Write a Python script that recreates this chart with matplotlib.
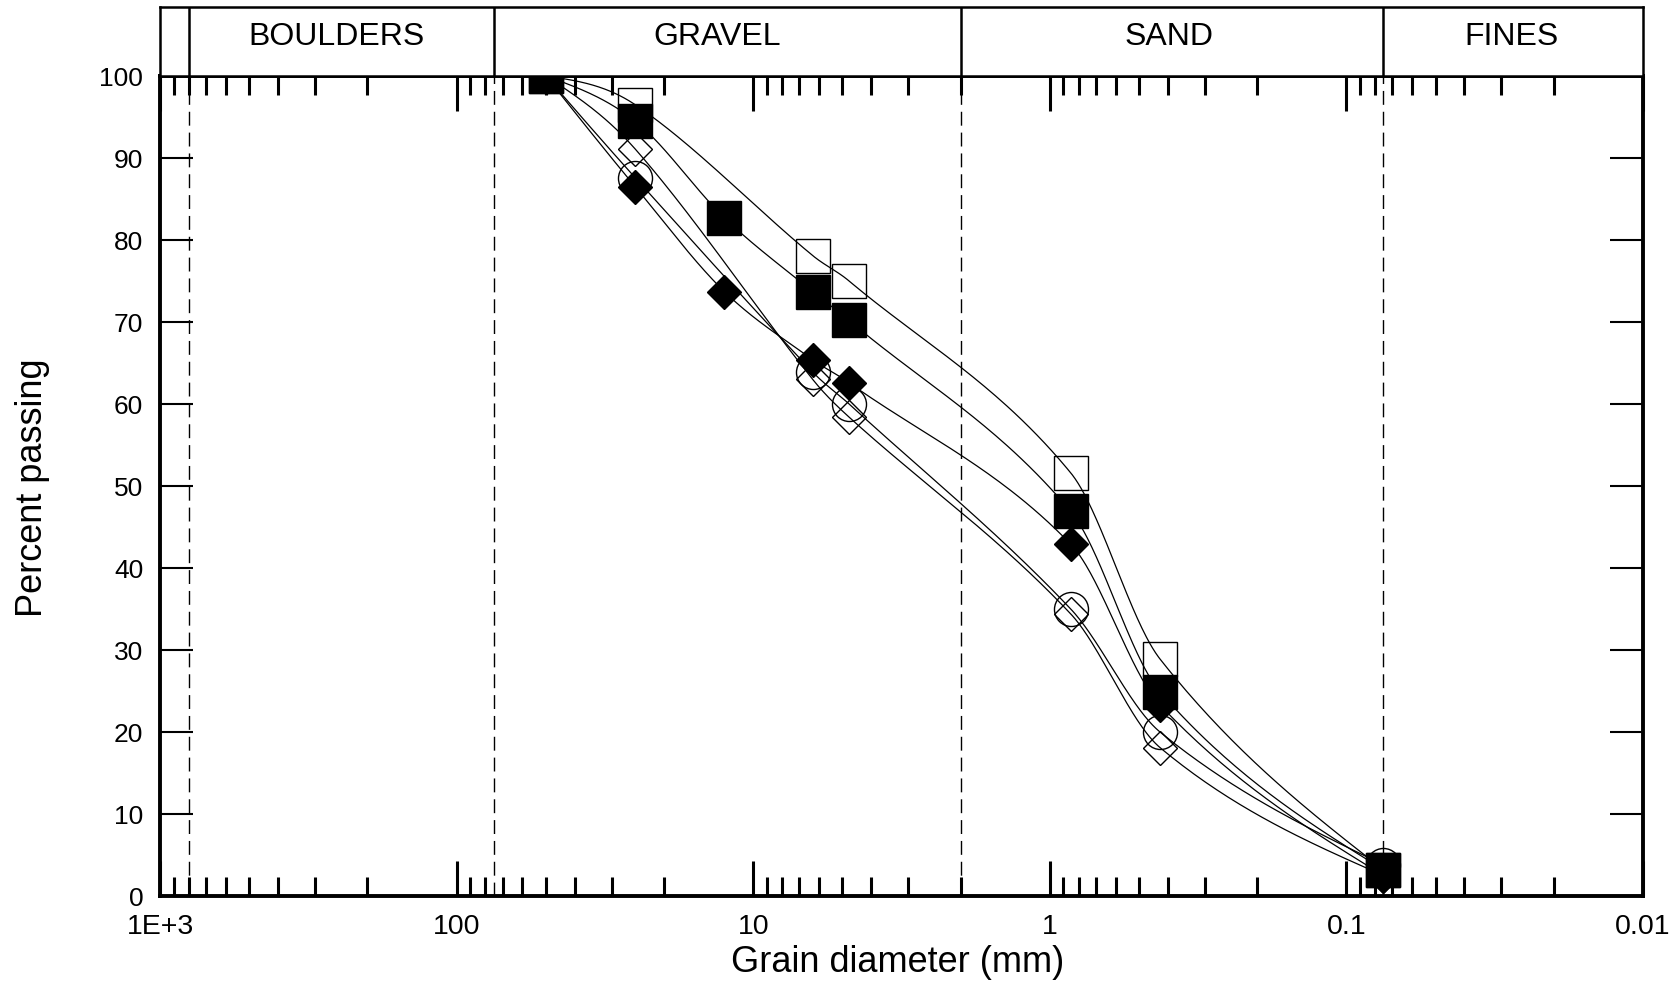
import numpy as np
import matplotlib
matplotlib.use("Agg")
import matplotlib.pyplot as plt
from matplotlib.ticker import FixedLocator, NullFormatter

plt.rcParams['font.family'] = ['Liberation Sans', 'DejaVu Sans']

# ---------------- data ----------------
sizes_all = [50, 25, 12.5, 6.3, 4.75, 0.85, 0.425, 0.075]
sizes_part = [50, 25, 6.3, 4.75, 0.85, 0.425, 0.075]

open_square = [100, 96.5, 78.1, 75.0, 51.6, 28.9, 3.2]
filled_square = [100, 94.5, 82.7, 73.7, 70.2, 46.9, 24.9, 3.2]
open_circle = [100, 87.6, 63.9, 60.0, 35.0, 20.0, 3.8]
open_diamond = [100, 91.1, 63.0, 58.4, 34.4, 18.1, 2.5]
filled_diamond = [100, 86.5, 73.7, 65.4, 62.6, 42.9, 23.3, 2.5]

boundaries = [800, 75, 2, 0.075]
band_labels = ["BOULDERS", "GRAVEL", "SAND", "FINES"]
band_label_x = [255, 13.2, 0.396, 0.0277]

xtick_vals = [1000, 100, 10, 1, 0.1, 0.01]
xtick_labels = ["1E+3", "100", "10", "1", "0.1", "0.01"]
ytick_vals = list(range(0, 101, 10))


def smooth_curve(xk, yk, npts=60):
    """Cubic Hermite (Catmull-Rom style) curve through the points."""
    xk = np.asarray(xk, float); yk = np.asarray(yk, float)
    n = len(xk)
    m = np.zeros(n)
    for i in range(1, n - 1):
        m[i] = (yk[i + 1] - yk[i - 1]) / (xk[i + 1] - xk[i - 1])
    d0 = (yk[1] - yk[0]) / (xk[1] - xk[0])
    dn = (yk[-1] - yk[-2]) / (xk[-1] - xk[-2])
    m[0] = (3 * d0 - m[1]) / 2
    m[-1] = (3 * dn - m[-2]) / 2
    X, Y = [], []
    for i in range(n - 1):
        h = xk[i + 1] - xk[i]
        t = np.linspace(0, 1, npts)
        h00 = 2 * t**3 - 3 * t**2 + 1
        h10 = t**3 - 2 * t**2 + t
        h01 = -2 * t**3 + 3 * t**2
        h11 = t**3 - t**2
        X.append(xk[i] + t * h)
        Y.append(h00 * yk[i] + h10 * h * m[i] + h01 * yk[i + 1] + h11 * h * m[i + 1])
    return np.concatenate(X), np.concatenate(Y)


W, H = 1679, 989
fig = plt.figure(figsize=(W / 100, H / 100), dpi=100)
L, R, B, T = 160 / W, 1643 / W, (H - 896) / H, (H - 76) / H
ax = fig.add_axes([L, B, R - L, T - B])
band = fig.add_axes([L, T, R - L, (H - 7) / H - T])

ax.set_xscale('log')
ax.set_xlim(1000, 0.01)
ax.set_ylim(0, 100)

for b in boundaries:
    ax.axvline(b, color='black', lw=1.0, ls=(0, (10, 5)), zorder=1)

series = [
    (sizes_part, open_square, dict(marker='s', ms=24.5, mfc='none', mec='black', mew=1.0)),
    (sizes_all, filled_square, dict(marker='s', ms=24.5, mfc='black', mec='black', mew=1.0)),
    (sizes_part, open_circle, dict(marker='o', ms=24.5, mfc='none', mec='black', mew=1.0)),
    (sizes_part, open_diamond, dict(marker='D', ms=17, mfc='none', mec='black', mew=1.0)),
    (sizes_all, filled_diamond, dict(marker='D', ms=17, mfc='black', mec='black', mew=1.0)),
]

for xs, ys, st in series:
    lx = -np.log10(np.array(xs, float))
    gx, gy = smooth_curve(lx, ys)
    ax.plot(10 ** (-gx), gy, color='black', lw=0.9, zorder=2)

for xs, ys, st in series:
    ax.plot(xs, ys, ls='none', zorder=3, clip_on=False, **st)

# ticks
ax.xaxis.set_major_locator(FixedLocator(xtick_vals))
ax.set_xticklabels(xtick_labels)
minors = [mm * 10.0 ** e for e in range(-2, 3) for mm in range(2, 10)]
ax.xaxis.set_minor_locator(FixedLocator(minors))
ax.xaxis.set_minor_formatter(NullFormatter())
ax.tick_params(axis='x', which='major', direction='in', top=True, bottom=True,
               length=25, width=2.2, labelsize=20.5, pad=13)
ax.tick_params(axis='x', which='minor', direction='in', top=True, bottom=True,
               length=13.5, width=2.2)
ax.set_yticks(ytick_vals)
ax.tick_params(axis='y', which='major', direction='in', left=True, right=True,
               length=23.5, width=1.5, labelsize=19, pad=12)
ax.yaxis.set_minor_locator(FixedLocator([]))

for s in ax.spines.values():
    s.set_linewidth(2.8)

fig.text(898 / W, 1 - 963 / H, "Grain diameter (mm)", fontsize=26,
         ha='center', va='center')
fig.text(33 / W, 1 - 488 / H, "Percent passing", fontsize=26,
         ha='center', va='center', rotation=90)

# band on top
band.set_xscale('log')
band.set_xlim(1000, 0.01)
band.set_ylim(0, 1)
band.set_xticks([]); band.set_yticks([])
band.minorticks_off()
for s in band.spines.values():
    s.set_linewidth(1.8)
for b in boundaries:
    band.axvline(b, color='black', lw=1.8)
for lab, xc in zip(band_labels, band_label_x):
    band.text(xc, 0.56, lab, ha='center', va='center', fontsize=23)

fig.savefig("out.png", dpi=100)
